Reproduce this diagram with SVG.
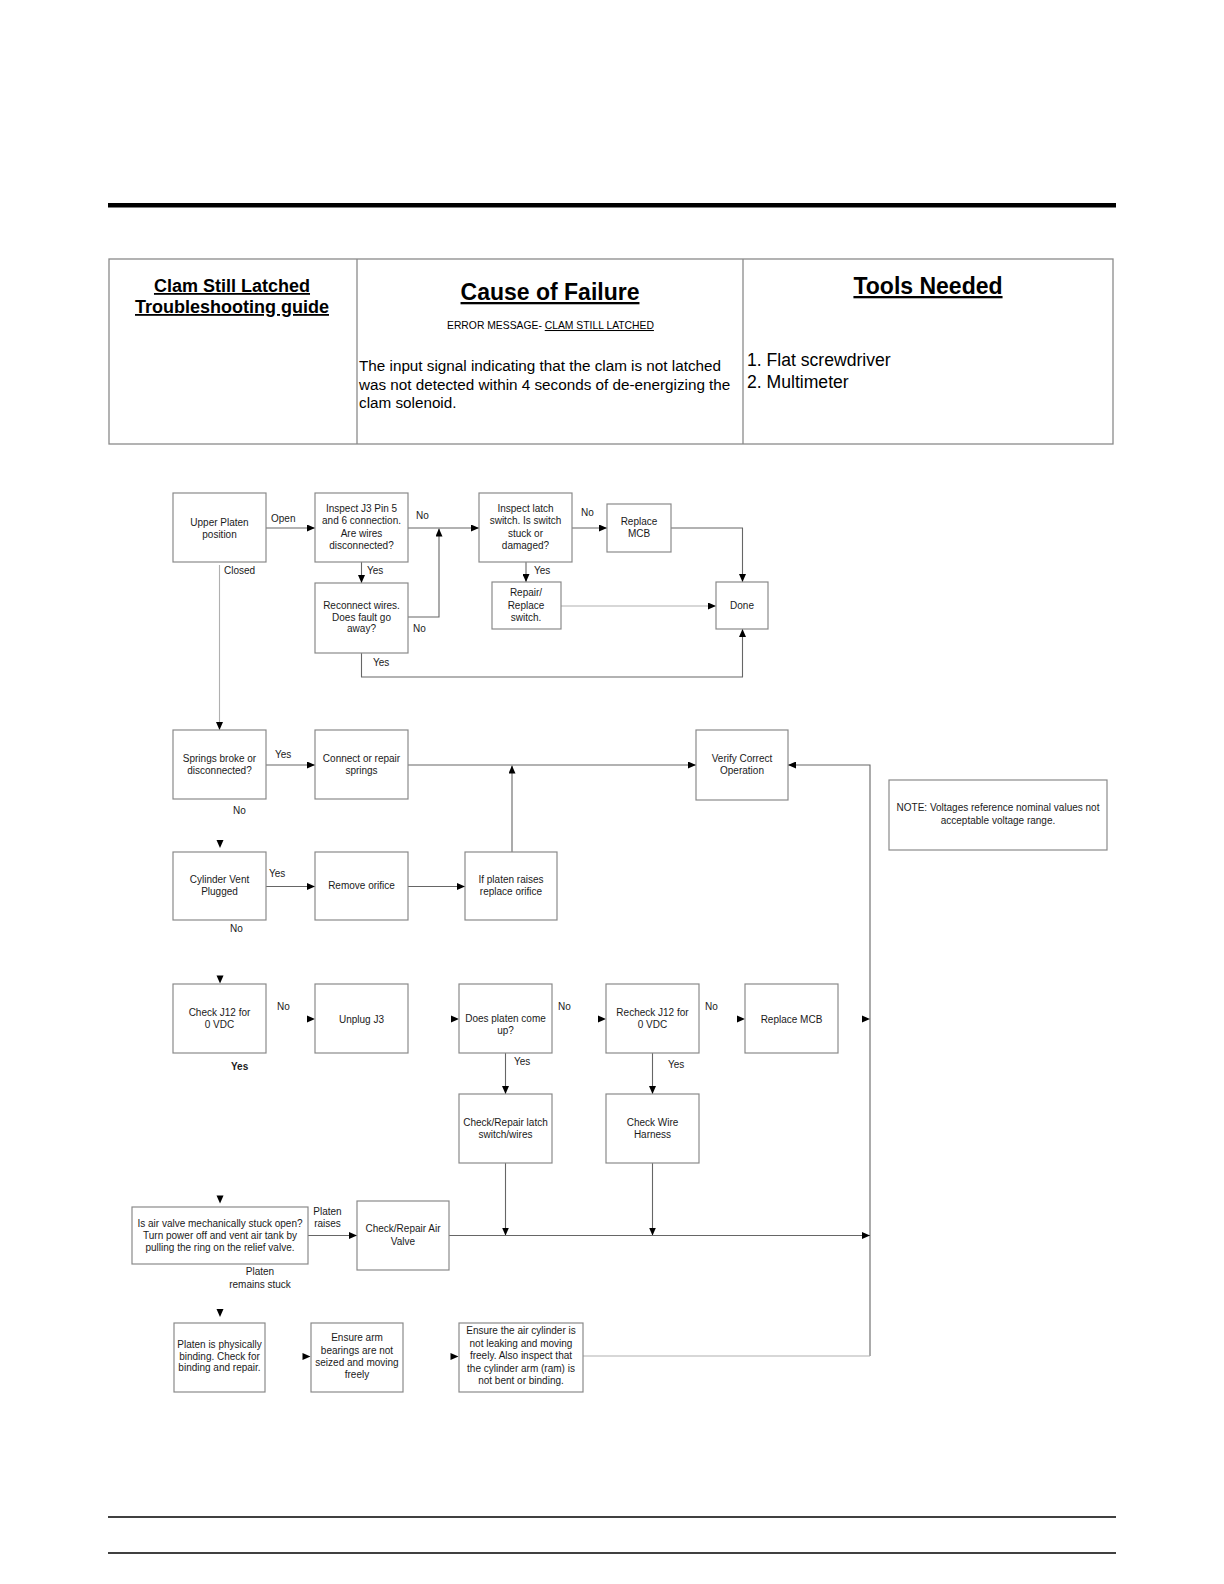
<svg xmlns="http://www.w3.org/2000/svg" width="1224" height="1584" viewBox="0 0 1224 1584">
<style>
.box{fill:#fff;stroke:#8a8a8a;stroke-width:1.2}
.t{font-family:"Liberation Sans",Arial,sans-serif;font-size:10px;fill:#1a1a1a;text-anchor:middle}
.l{font-family:"Liberation Sans",Arial,sans-serif;font-size:10px;fill:#1a1a1a}
.h{font-family:"Liberation Sans",Arial,sans-serif;fill:#000}
.c{fill:none;stroke:#666;stroke-width:1.1}
.cl{fill:none;stroke:#b0b0b0;stroke-width:1.1}
.ah{fill:#000}
</style>
<defs>
<marker id="arr" viewBox="0 0 8 7" refX="8" refY="3.5" markerWidth="8" markerHeight="7" markerUnits="userSpaceOnUse" orient="auto"><path d="M0,0 L8,3.5 L0,7 z" fill="#000"/></marker>
<path id="ahR" d="M-8,-3.5 L0,0 L-8,3.5 z"/>
<path id="ahD" d="M-3.5,-8 L0,0 L3.5,-8 z"/>
</defs>
<rect width="1224" height="1584" fill="#fff"/>

<g id="page-rules">
<rect x="108" y="203" width="1008" height="4.5" fill="#000"/>
<line x1="108" y1="1517" x2="1116" y2="1517" stroke="#000" stroke-width="1.3"/>
<line x1="108" y1="1553" x2="1116" y2="1553" stroke="#000" stroke-width="1.3"/>
</g>

<g id="header-table">
<rect x="109" y="259" width="1004" height="185" fill="none" stroke="#8a8a8a" stroke-width="1.3"/>
<line x1="357" y1="259" x2="357" y2="444" stroke="#8a8a8a" stroke-width="1.3"/>
<line x1="743" y1="259" x2="743" y2="444" stroke="#8a8a8a" stroke-width="1.3"/>
<text class="h" x="232" y="292" font-size="18" font-weight="bold" text-anchor="middle" text-decoration="underline">Clam Still Latched</text>
<text class="h" x="232" y="313" font-size="18" font-weight="bold" text-anchor="middle" text-decoration="underline">Troubleshooting guide</text>
<text class="h" x="550" y="300" font-size="23" font-weight="bold" text-anchor="middle" text-decoration="underline">Cause of Failure</text>
<text class="h" x="447" y="329" font-size="10.35">ERROR MESSAGE- <tspan text-decoration="underline">CLAM STILL LATCHED</tspan></text>
<text class="h" x="359" y="371" font-size="15.25">The input signal indicating that the clam is not latched</text>
<text class="h" x="359" y="389.5" font-size="15.25">was not detected within 4 seconds of de-energizing the</text>
<text class="h" x="359" y="408" font-size="15.25">clam solenoid.</text>
<text class="h" x="928" y="294" font-size="23" font-weight="bold" text-anchor="middle" text-decoration="underline">Tools Needed</text>
<text class="h" x="747" y="366" font-size="17.6">1. Flat screwdriver</text>
<text class="h" x="747" y="388" font-size="17.6">2. Multimeter</text>
</g>

<g id="connectors">
<path class="c" d="M266,528 H315" marker-end="url(#arr)"/>
<path class="c" d="M408,528 H479" marker-end="url(#arr)"/>
<path class="c" d="M361.5,562 V583" marker-end="url(#arr)"/>
<path class="c" d="M408,617 H439 V528.5" marker-end="url(#arr)"/>
<path class="c" d="M361.5,653 V677 H742.5 V629" marker-end="url(#arr)"/>
<path class="c" d="M572,528 H607" marker-end="url(#arr)"/>
<path class="c" d="M526,562 V582" marker-end="url(#arr)"/>
<path class="c" d="M671,528 H742.5 V582" marker-end="url(#arr)"/>
<path class="cl" d="M561,606 H716" marker-end="url(#arr)"/>
<path class="cl" d="M219.5,565 V730" marker-end="url(#arr)"/>
<path class="c" d="M266,765 H315" marker-end="url(#arr)"/>
<path class="c" d="M408,765 H696" marker-end="url(#arr)"/>
<path class="c" d="M512,852 V765.5" marker-end="url(#arr)"/>
<path class="c" d="M870,1356 V765 H788" marker-end="url(#arr)"/>
<use href="#ahD" class="ah" x="220" y="848"/>
<path class="c" d="M266,886.5 H315" marker-end="url(#arr)"/>
<path class="c" d="M408,886.5 H465" marker-end="url(#arr)"/>
<use href="#ahD" class="ah" x="220" y="983.5"/>
<use href="#ahR" class="ah" x="315" y="1019"/>
<use href="#ahR" class="ah" x="459" y="1019"/>
<use href="#ahR" class="ah" x="606" y="1019"/>
<use href="#ahR" class="ah" x="745" y="1019"/>
<use href="#ahR" class="ah" x="870" y="1019"/>
<path class="c" d="M505.5,1053 V1094" marker-end="url(#arr)"/>
<path class="c" d="M652.5,1053 V1094" marker-end="url(#arr)"/>
<path class="c" d="M505.5,1163 V1235.5" marker-end="url(#arr)"/>
<path class="c" d="M652.5,1163 V1235.5" marker-end="url(#arr)"/>
<use href="#ahD" class="ah" x="220" y="1203.5"/>
<path class="c" d="M308,1235.5 H357" marker-end="url(#arr)"/>
<path class="c" d="M449,1235.5 H870" marker-end="url(#arr)"/>
<use href="#ahD" class="ah" x="220" y="1317"/>
<use href="#ahR" class="ah" x="310.5" y="1356.5"/>
<use href="#ahR" class="ah" x="458.5" y="1356.5"/>
<path class="cl" d="M583,1356 H870"/>
</g>

<g id="labels">
<text class="l" x="271" y="522">Open</text>
<text class="l" x="416" y="519">No</text>
<text class="l" x="367" y="574">Yes</text>
<text class="l" x="224" y="574">Closed</text>
<text class="l" x="413" y="632">No</text>
<text class="l" x="373" y="666">Yes</text>
<text class="l" x="581" y="516">No</text>
<text class="l" x="534" y="574">Yes</text>
<text class="l" x="275" y="758">Yes</text>
<text class="l" x="233" y="814">No</text>
<text class="l" x="269" y="877">Yes</text>
<text class="l" x="230" y="932">No</text>
<text class="l" x="277" y="1010">No</text>
<text class="l" x="231" y="1070" font-weight="bold">Yes</text>
<text class="l" x="558" y="1010">No</text>
<text class="l" x="514" y="1065">Yes</text>
<text class="l" x="705" y="1010">No</text>
<text class="l" x="668" y="1068">Yes</text>
<text class="t" x="327.5" y="1215">Platen</text>
<text class="t" x="327.5" y="1227">raises</text>
<text class="t" x="260" y="1275">Platen</text>
<text class="t" x="260" y="1288">remains stuck</text>
</g>

<g id="n-upper-platen"><rect class="box" x="173" y="493" width="93" height="69"/><text class="t" x="219.5" y="526">Upper Platen</text><text class="t" x="219.5" y="538">position</text></g>
<g id="n-inspect-j3"><rect class="box" x="315" y="493" width="93" height="69"/><text class="t" x="361.5" y="512">Inspect J3 Pin 5</text><text class="t" x="361.5" y="524">and 6 connection.</text><text class="t" x="361.5" y="536.5">Are wires</text><text class="t" x="361.5" y="548.5">disconnected?</text></g>
<g id="n-reconnect"><rect class="box" x="315" y="583" width="93" height="70"/><text class="t" x="361.5" y="608.5">Reconnect wires.</text><text class="t" x="361.5" y="620.5">Does fault go</text><text class="t" x="361.5" y="632">away?</text></g>
<g id="n-inspect-latch"><rect class="box" x="479" y="493" width="93" height="69"/><text class="t" x="525.5" y="512">Inspect latch</text><text class="t" x="525.5" y="524">switch. Is switch</text><text class="t" x="525.5" y="536.5">stuck or</text><text class="t" x="525.5" y="548.5">damaged?</text></g>
<g id="n-replace-mcb-1"><rect class="box" x="607" y="504" width="64" height="48"/><text class="t" x="639" y="525">Replace</text><text class="t" x="639" y="537">MCB</text></g>
<g id="n-repair-switch"><rect class="box" x="492" y="582" width="69" height="47"/><text class="t" x="526" y="596">Repair/</text><text class="t" x="526" y="609">Replace</text><text class="t" x="526" y="621">switch.</text></g>
<g id="n-done"><rect class="box" x="716" y="582" width="52" height="47"/><text class="t" x="742" y="609">Done</text></g>
<g id="n-springs"><rect class="box" x="173" y="730" width="93" height="69"/><text class="t" x="219.5" y="762">Springs broke or</text><text class="t" x="219.5" y="774">disconnected?</text></g>
<g id="n-connect-springs"><rect class="box" x="315" y="730" width="93" height="69"/><text class="t" x="361.5" y="762">Connect or repair</text><text class="t" x="361.5" y="774">springs</text></g>
<g id="n-verify"><rect class="box" x="696" y="730" width="92" height="70"/><text class="t" x="742" y="762">Verify Correct</text><text class="t" x="742" y="774">Operation</text></g>
<g id="n-note"><rect class="box" x="889" y="780" width="218" height="70"/><text class="t" x="998" y="811">NOTE: Voltages reference nominal values not</text><text class="t" x="998" y="823.5">acceptable voltage range.</text></g>
<g id="n-cylinder-vent"><rect class="box" x="173" y="852" width="93" height="68"/><text class="t" x="219.5" y="883">Cylinder Vent</text><text class="t" x="219.5" y="895">Plugged</text></g>
<g id="n-remove-orifice"><rect class="box" x="315" y="852" width="93" height="68"/><text class="t" x="361.5" y="888.5">Remove orifice</text></g>
<g id="n-if-platen"><rect class="box" x="465" y="852" width="92" height="68"/><text class="t" x="511" y="883">If platen raises</text><text class="t" x="511" y="895">replace orifice</text></g>
<g id="n-check-j12"><rect class="box" x="173" y="984" width="93" height="69"/><text class="t" x="219.5" y="1016">Check J12 for</text><text class="t" x="219.5" y="1028">0 VDC</text></g>
<g id="n-unplug-j3"><rect class="box" x="315" y="984" width="93" height="69"/><text class="t" x="361.5" y="1022.5">Unplug J3</text></g>
<g id="n-does-platen"><rect class="box" x="459" y="984" width="93" height="69"/><text class="t" x="505.5" y="1022">Does platen come</text><text class="t" x="505.5" y="1034">up?</text></g>
<g id="n-recheck-j12"><rect class="box" x="606" y="984" width="93" height="69"/><text class="t" x="652.5" y="1016">Recheck J12 for</text><text class="t" x="652.5" y="1028">0 VDC</text></g>
<g id="n-replace-mcb-2"><rect class="box" x="745" y="984" width="93" height="69"/><text class="t" x="791.5" y="1022.5">Replace MCB</text></g>
<g id="n-check-latch"><rect class="box" x="459" y="1094" width="93" height="69"/><text class="t" x="505.5" y="1126">Check/Repair latch</text><text class="t" x="505.5" y="1138">switch/wires</text></g>
<g id="n-check-harness"><rect class="box" x="606" y="1094" width="93" height="69"/><text class="t" x="652.5" y="1126">Check Wire</text><text class="t" x="652.5" y="1138">Harness</text></g>
<g id="n-air-valve-stuck"><rect class="box" x="132" y="1207" width="176" height="57"/><text class="t" x="220" y="1227">Is air valve mechanically stuck open?</text><text class="t" x="220" y="1239">Turn power off and vent air tank by</text><text class="t" x="220" y="1250.5">pulling the ring on the relief valve.</text></g>
<g id="n-repair-air-valve"><rect class="box" x="357" y="1201" width="92" height="69"/><text class="t" x="403" y="1232">Check/Repair Air</text><text class="t" x="403" y="1244.5">Valve</text></g>
<g id="n-platen-binding"><rect class="box" x="174" y="1323" width="91" height="69"/><text class="t" x="219.5" y="1347.5">Platen is physically</text><text class="t" x="219.5" y="1359.5">binding. Check for</text><text class="t" x="219.5" y="1371">binding and repair.</text></g>
<g id="n-arm-bearings"><rect class="box" x="311" y="1323" width="92" height="69"/><text class="t" x="357" y="1341">Ensure arm</text><text class="t" x="357" y="1353.5">bearings are not</text><text class="t" x="357" y="1366">seized and moving</text><text class="t" x="357" y="1378">freely</text></g>
<g id="n-air-cylinder"><rect class="box" x="459" y="1323" width="124" height="69"/><text class="t" x="521" y="1334">Ensure the air cylinder is</text><text class="t" x="521" y="1346.5">not leaking and moving</text><text class="t" x="521" y="1359">freely. Also inspect that</text><text class="t" x="521" y="1371.5">the cylinder arm (ram) is</text><text class="t" x="521" y="1384">not bent or binding.</text></g>
</svg>
